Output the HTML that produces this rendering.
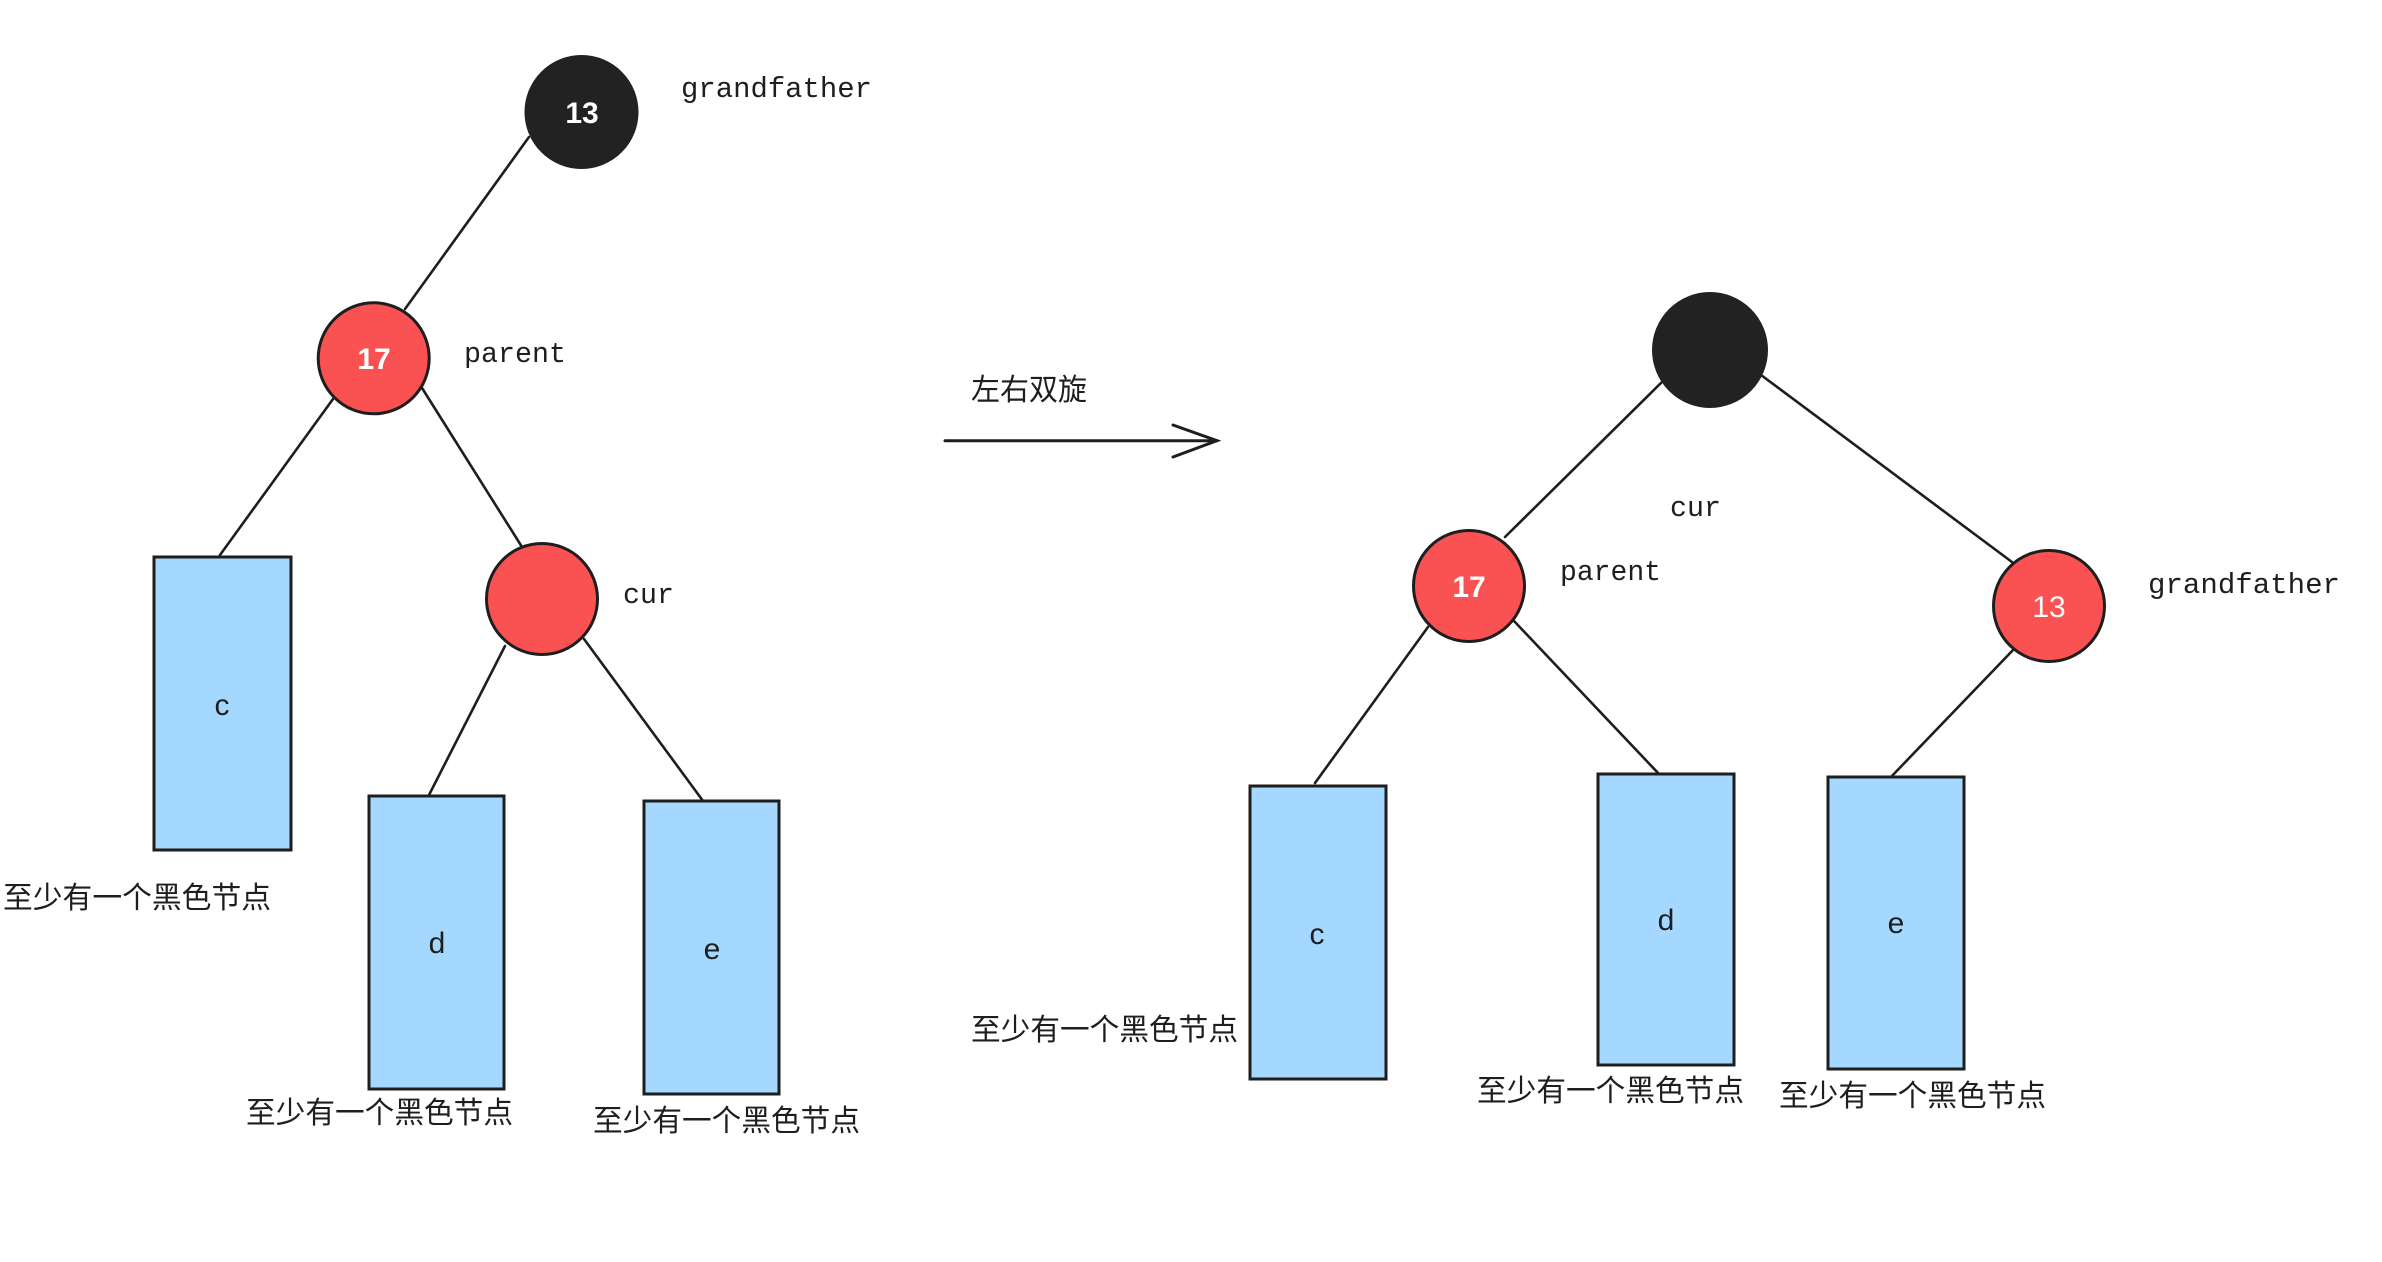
<!DOCTYPE html>
<html>
<head>
<meta charset="utf-8">
<style>
  html, body { margin: 0; padding: 0; background: #ffffff; }
  body { width: 2382px; height: 1262px; overflow: hidden; }
  svg { display: block; }
  .mono { font-family: "Liberation Mono", monospace; font-size: 29px; fill: #1e1e1e; }
  .cjk { font-family: "Liberation Sans", "Noto Sans CJK SC", sans-serif; font-size: 30px; fill: #1e1e1e; }
  .num { font-family: "Liberation Sans", sans-serif; font-size: 30px; fill: #ffffff; font-weight: bold; }
  .box { font-family: "Liberation Sans", sans-serif; font-size: 30px; fill: #1e1e1e; }
</style>
</head>
<body>
<svg width="2382" height="1262" viewBox="0 0 2382 1262" xmlns="http://www.w3.org/2000/svg">
  <rect x="0" y="0" width="2382" height="1262" fill="#ffffff"/>

  <!-- ===== LEFT TREE ===== -->
  <g stroke="#1e1e1e" stroke-width="2.6" stroke-linecap="round" fill="none">
    <line x1="529" y1="137" x2="405" y2="309"/>
    <line x1="333" y1="399" x2="220" y2="555"/>
    <line x1="422" y1="388" x2="522" y2="547"/>
    <line x1="505" y1="646" x2="429" y2="795"/>
    <line x1="584" y1="639" x2="706" y2="805"/>
  </g>

  <!-- boxes -->
  <g stroke="#1e1e1e" stroke-width="3" fill="#a5d8ff">
    <rect x="154" y="557" width="137" height="293"/>
    <rect x="369" y="796" width="135" height="293"/>
    <rect x="644" y="801" width="135" height="293"/>
  </g>
  <text class="box" x="222" y="715" text-anchor="middle">c</text>
  <text class="box" x="437" y="953" text-anchor="middle">d</text>
  <text class="box" x="712" y="959" text-anchor="middle">e</text>

  <!-- circles -->
  <circle cx="581.5" cy="112" r="56" fill="#222222" stroke="#222222" stroke-width="2"/>
  <text class="num" x="582" y="123" text-anchor="middle" style="font-weight:600">13</text>

  <circle cx="373.7" cy="358.3" r="55.5" fill="#fa5252" stroke="#1e1e1e" stroke-width="3"/>
  <text class="num" x="374" y="369" text-anchor="middle">17</text>

  <circle cx="542" cy="599" r="55.5" fill="#fa5252" stroke="#1e1e1e" stroke-width="3"/>

  <!-- labels -->
  <text class="mono" x="681" y="97" textLength="191" lengthAdjust="spacingAndGlyphs">grandfather</text>
  <text class="mono" x="464" y="362" textLength="102" lengthAdjust="spacingAndGlyphs">parent</text>
  <text class="mono" x="623" y="603" textLength="51" lengthAdjust="spacingAndGlyphs">cur</text>

  <text class="cjk" x="3" y="908" textLength="268" lengthAdjust="spacingAndGlyphs">至少有一个黑色节点</text>
  <text class="cjk" x="246" y="1123" textLength="267" lengthAdjust="spacingAndGlyphs">至少有一个黑色节点</text>
  <text class="cjk" x="593" y="1131" textLength="267" lengthAdjust="spacingAndGlyphs">至少有一个黑色节点</text>

  <!-- ===== ARROW ===== -->
  <text class="cjk" x="971" y="400" textLength="116" lengthAdjust="spacingAndGlyphs">左右双旋</text>
  <g stroke="#1e1e1e" stroke-width="3" stroke-linecap="round" fill="none">
    <line x1="945" y1="440.7" x2="1217" y2="440.7"/>
    <polyline points="1173,425 1217,440.7 1173,457"/>
  </g>

  <!-- ===== RIGHT TREE ===== -->
  <g stroke="#1e1e1e" stroke-width="2.6" stroke-linecap="round" fill="none">
    <line x1="1663" y1="381" x2="1505" y2="537"/>
    <line x1="1761" y1="375" x2="2016" y2="565"/>
    <line x1="1428" y1="627" x2="1315" y2="783"/>
    <line x1="1514" y1="621" x2="1659" y2="774"/>
    <line x1="2014" y1="649" x2="1890" y2="778"/>
  </g>

  <g stroke="#1e1e1e" stroke-width="3" fill="#a5d8ff">
    <rect x="1250" y="786" width="136" height="293"/>
    <rect x="1598" y="774" width="136" height="291"/>
    <rect x="1828" y="777" width="136" height="292"/>
  </g>
  <text class="box" x="1317" y="944" text-anchor="middle">c</text>
  <text class="box" x="1666" y="930" text-anchor="middle">d</text>
  <text class="box" x="1896" y="933" text-anchor="middle">e</text>

  <circle cx="1710" cy="350" r="57" fill="#222222" stroke="#222222" stroke-width="2"/>

  <circle cx="1469" cy="586" r="55.5" fill="#fa5252" stroke="#1e1e1e" stroke-width="3"/>
  <text class="num" x="1469" y="597" text-anchor="middle">17</text>

  <circle cx="2049" cy="606" r="55.5" fill="#fa5252" stroke="#1e1e1e" stroke-width="3"/>
  <text class="num" x="2049" y="617" text-anchor="middle" style="font-weight:normal">13</text>

  <text class="mono" x="1670" y="516" textLength="51" lengthAdjust="spacingAndGlyphs">cur</text>
  <text class="mono" x="1560" y="580" textLength="101" lengthAdjust="spacingAndGlyphs">parent</text>
  <text class="mono" x="2148" y="593" textLength="192" lengthAdjust="spacingAndGlyphs">grandfather</text>

  <text class="cjk" x="971" y="1040" textLength="267" lengthAdjust="spacingAndGlyphs">至少有一个黑色节点</text>
  <text class="cjk" x="1477" y="1101" textLength="267" lengthAdjust="spacingAndGlyphs">至少有一个黑色节点</text>
  <text class="cjk" x="1779" y="1106" textLength="267" lengthAdjust="spacingAndGlyphs">至少有一个黑色节点</text>
</svg>
</body>
</html>
